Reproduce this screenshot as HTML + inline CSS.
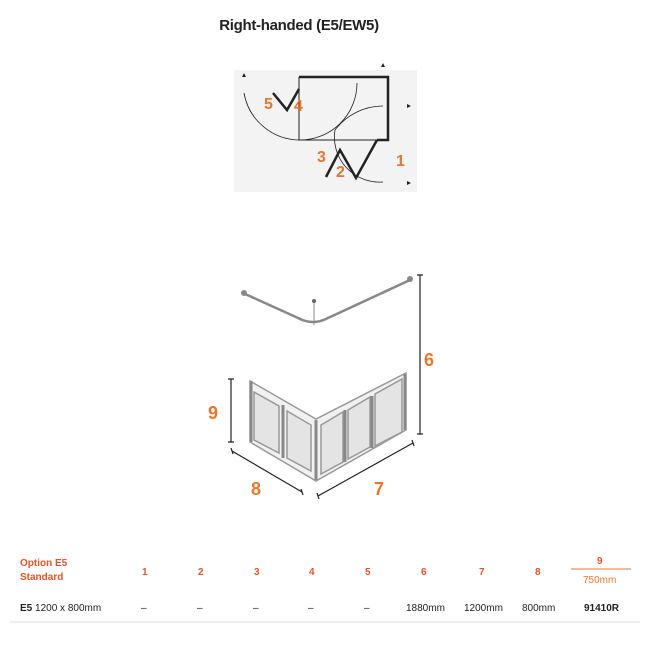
<!DOCTYPE html>
<html><head><meta charset="utf-8"><style>
body{margin:0;width:650px;height:650px;background:#fff;font-family:"Liberation Sans",sans-serif;position:relative;overflow:hidden}
.t{position:absolute;font-size:10px;color:#222}
.h{position:absolute;font-size:10px;font-weight:bold;color:#e2542a}
</style></head><body>
<div style="position:absolute;left:0;width:598px;top:17px;text-align:center;font-size:15px;font-weight:bold;color:#222;letter-spacing:-0.3px">Right-handed (E5/EW5)</div>
<svg width="650" height="650" style="position:absolute;left:0;top:0">
<rect x="234" y="70" width="183" height="122" fill="#f3f3f3"/>
<g fill="none" stroke="#222">
<path d="M299,77 H388 V140 H377" stroke-width="2.5"/>
<path d="M299,77 V140 H377" stroke-width="1"/>
<path d="M244,93 A57,57 0 0 0 299,140 A57,57 0 0 0 357,83" stroke-width="0.8"/>
<path d="M383,106 A60,60 0 0 0 335,130 A45,45 0 0 0 383,182" stroke-width="0.8"/>
<path d="M273,93 L287,110 L299,89" stroke-width="2.5"/>
<path d="M326,177 L340,150 L356,178 L377,140" stroke-width="2.5"/>
</g>
<g fill="#222"><path d="M242,77 l2,-4 l2,4z"/><path d="M381,67 l2,-4 l2,4z"/><path d="M407,104 l4,2 l-4,2z"/><path d="M407,181 l4,2 l-4,2z"/></g>
<g font-family="Liberation Sans" font-weight="bold" font-size="16" fill="#e8772e">
<text x="264" y="109">5</text><text x="294" y="111">4</text><text x="317" y="162">3</text><text x="336" y="177">2</text><text x="396" y="166">1</text>
<text x="424" y="366" font-size="18">6</text><text x="208" y="419" font-size="18">9</text><text x="251" y="495" font-size="18">8</text><text x="374" y="495" font-size="18">7</text>
</g>
<g fill="none" stroke="#888" stroke-width="2.5" stroke-linecap="round">
<path d="M243,293 L298,318 Q313,326 328,318 L410,280"/>
<path d="M314,300 V325" stroke-width="1"/>
</g>
<circle cx="314" cy="301" r="2" fill="#666"/>
<circle cx="244" cy="293" r="3" fill="#888"/><circle cx="410" cy="279" r="3" fill="#888"/>
<g stroke="#222" stroke-width="1.2"><path d="M420,275 V434 M417,275 H423 M417,434 H423"/>
<path d="M231,379 V442 M228,379 H234 M228,442 H234"/>
<path d="M232,451 L302,492 M231,448 L233,454 M301,489 L303,495"/>
<path d="M318,496 L413,443 M317,493 L319,499 M412,440 L414,446"/></g>
<g fill="#f1f1f1" stroke="#999" stroke-width="1.5">
<path d="M250,381 L316,419 L406,373 V430 L316,481 L250,442Z"/>
</g>
<g fill="#e4e4e4" stroke="#999" stroke-width="1.5">
<path d="M254,392 L279,406 V453 L254,440Z"/><path d="M287,411 L311,425 V471 L287,458Z"/>
<path d="M321,425 L343,412 V462 L321,474Z"/><path d="M348,410 L370,397 V447 L348,459Z"/><path d="M375,394 L402,379 V432 L375,446Z"/>
</g>
<g stroke="#888" stroke-width="3"><path d="M251,381 V442 M283,405 V458 M316,420 V480 M345,410 V462 M372,396 V448 M405,374 V430"/></g>
<g stroke="#e8772e"><path d="M571,569 H631"/></g>
<path d="M10,622 H640" stroke="#ddd"/>
</svg>
<div class="h" style="left:20px;top:557px;line-height:14px">Option E5<br>Standard</div>
<div class="h" style="left:142px;top:567px">1</div><div class="h" style="left:198px;top:567px">2</div><div class="h" style="left:254px;top:567px">3</div><div class="h" style="left:309px;top:567px">4</div><div class="h" style="left:365px;top:567px">5</div><div class="h" style="left:421px;top:567px">6</div><div class="h" style="left:479px;top:567px">7</div><div class="h" style="left:535px;top:567px">8</div>
<div class="h" style="left:597px;top:556px">9</div>
<div class="t" style="left:583px;top:575px;color:#e8772e">750mm</div>
<div class="t" style="left:20px;top:603px"><b>E5</b> 1200 x 800mm</div>
<div class="t" style="left:141px;top:603px">–</div><div class="t" style="left:197px;top:603px">–</div><div class="t" style="left:253px;top:603px">–</div><div class="t" style="left:308px;top:603px">–</div><div class="t" style="left:364px;top:603px">–</div>
<div class="t" style="left:406px;top:603px">1880mm</div><div class="t" style="left:464px;top:603px">1200mm</div><div class="t" style="left:522px;top:603px">800mm</div>
<div class="t" style="left:584px;top:603px;font-weight:bold">91410R</div>
</body></html>
